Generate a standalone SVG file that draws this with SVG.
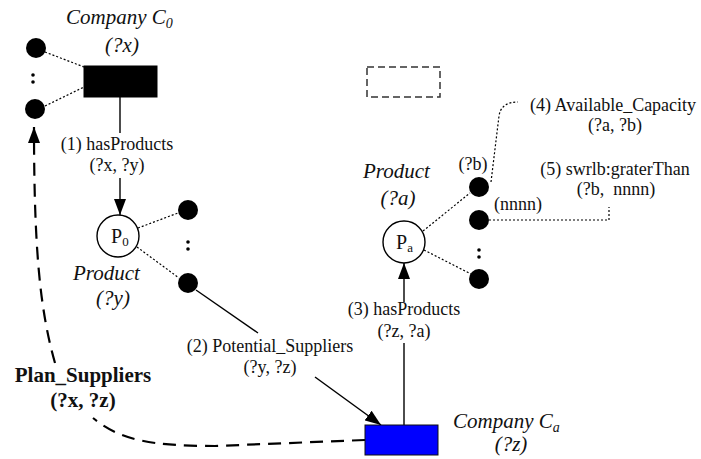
<svg xmlns="http://www.w3.org/2000/svg" width="701" height="459" viewBox="0 0 701 459" font-family="'Liberation Serif', 'Times New Roman', 'DejaVu Serif', serif">
<defs>
<marker id="arr" markerUnits="userSpaceOnUse" markerWidth="16" markerHeight="12" refX="16" refY="6" orient="auto" viewBox="0 0 16 12">
<path d="M0,0 L16,6 L0,12 z" fill="#000"/>
</marker>
</defs>
<style>
text{fill:#111}
.lbl{font-size:18px}
.it{font-size:21px;font-style:italic}
.bd{font-size:21px;font-weight:bold}
.mid{text-anchor:middle}
.dot{fill:#000}
.dotted{fill:none;stroke:#000;stroke-width:1.2;stroke-dasharray:2,2}
.solid{fill:none;stroke:#000;stroke-width:1.4}
.dash{fill:none;stroke:#000;stroke-width:2.2;stroke-dasharray:13,8}
.pnode{fill:#fff;stroke:#000;stroke-width:1.4}
</style>
<rect width="701" height="459" fill="#fff"/>

<g id="connectors">
<line class="dotted" x1="45" y1="52" x2="84" y2="67"/>
<line class="dotted" x1="45" y1="106" x2="84" y2="87"/>
<line class="solid" x1="120" y1="97" x2="120" y2="133"/>
<line class="solid" x1="120" y1="178" x2="120" y2="215" marker-end="url(#arr)"/>
<line class="dotted" x1="138" y1="228" x2="178" y2="213"/>
<line class="dotted" x1="137" y1="247" x2="179" y2="278"/>
<line class="solid" x1="196" y1="290" x2="258" y2="333"/>
<line class="solid" x1="315" y1="377" x2="381" y2="425" marker-end="url(#arr)"/>
<line class="solid" x1="404" y1="425" x2="404" y2="343"/>
<line class="solid" x1="404" y1="302" x2="404" y2="263" marker-end="url(#arr)"/>
<line class="dotted" x1="423" y1="231" x2="470" y2="193"/>
<line class="dotted" x1="424" y1="250" x2="471" y2="274"/>
<path class="dotted" d="M491,182 L499,116 Q501,102 518,102"/>
<path class="dotted" d="M489,220 L609,220 L609,207"/>
<path class="dash" d="M365,440 L215,446 C150,446 120,440 93,418"/>
<path class="dash" d="M55,363 C40,310 34,250 34,127" marker-end="url(#arr)"/>
</g>

<g id="company-c0">
<rect x="84" y="66" width="73" height="31" fill="#000" stroke="#000"/>
<text class="it" x="66" y="24">Company C<tspan font-size="14" dy="4">0</tspan></text>
<text class="it mid" x="122" y="52">(?x)</text>
</g>
<g id="c0-attr-1"><circle class="dot" cx="36" cy="48" r="10"/></g>
<g id="c0-attr-dots"><circle class="dot" cx="33" cy="75" r="1.8"/><circle class="dot" cx="33" cy="82" r="1.8"/></g>
<g id="c0-attr-2"><circle class="dot" cx="35" cy="109" r="10"/></g>

<g id="label-1">
<text class="lbl mid" x="117" y="150">(1) hasProducts</text>
<text class="lbl mid" x="117" y="171">(?x, ?y)</text>
</g>

<g id="product-p0">
<circle class="pnode" cx="118" cy="236" r="21"/>
<text x="111" y="243" font-size="20">P<tspan font-size="13" dy="3">0</tspan></text>
<text class="it" x="73" y="280">Product</text>
<text class="it mid" x="113" y="305">(?y)</text>
</g>
<g id="p0-attr-1"><circle class="dot" cx="188" cy="210" r="10"/></g>
<g id="p0-attr-dots"><circle class="dot" cx="188" cy="242" r="1.8"/><circle class="dot" cx="188" cy="249" r="1.8"/></g>
<g id="p0-attr-2"><circle class="dot" cx="188" cy="283" r="10"/></g>

<g id="label-2">
<text class="lbl mid" x="270" y="352">(2) Potential_Suppliers</text>
<text class="lbl mid" x="270" y="373">(?y, ?z)</text>
</g>

<g id="label-plan">
<text class="bd mid" x="83" y="382">Plan_Suppliers</text>
<text class="bd mid" x="83" y="407">(?x, ?z)</text>
</g>

<g id="empty-box">
<rect x="367" y="67" width="73" height="30" fill="none" stroke="#333" stroke-width="1.5" stroke-dasharray="7,4"/>
</g>

<g id="company-ca">
<rect x="365" y="425" width="73" height="30" fill="#0000ff" stroke="#111" stroke-width="1"/>
<text class="it" x="453" y="428">Company C<tspan font-size="14" dy="4">a</tspan></text>
<text class="it mid" x="511" y="451">(?z)</text>
</g>

<g id="label-3">
<text class="lbl mid" x="404" y="315">(3) hasProducts</text>
<text class="lbl mid" x="404" y="337">(?z, ?a)</text>
</g>

<g id="product-pa">
<circle class="pnode" cx="404" cy="242" r="21"/>
<text x="396" y="249" font-size="20">P<tspan font-size="13" dy="3">a</tspan></text>
<text class="it" x="363" y="178">Product</text>
<text class="it mid" x="398" y="205">(?a)</text>
</g>
<g id="pa-attr-b"><circle class="dot" cx="479" cy="187" r="10"/><text class="lbl mid" x="473" y="170">(?b)</text></g>
<g id="pa-attr-n"><circle class="dot" cx="479" cy="220" r="10"/><text class="lbl mid" x="518" y="210">(nnnn)</text></g>
<g id="pa-attr-dots"><circle class="dot" cx="479" cy="250" r="1.8"/><circle class="dot" cx="479" cy="257" r="1.8"/></g>
<g id="pa-attr-3"><circle class="dot" cx="479" cy="279" r="10"/></g>

<g id="label-4">
<text class="lbl" x="530" y="111">(4) Available_Capacity</text>
<text class="lbl mid" x="615" y="131">(?a, ?b)</text>
</g>
<g id="label-5">
<text class="lbl mid" x="615" y="175">(5) swrlb:graterThan</text>
<text class="lbl mid" x="616" y="195" xml:space="preserve">(?b,  nnnn)</text>
</g>
</svg>
